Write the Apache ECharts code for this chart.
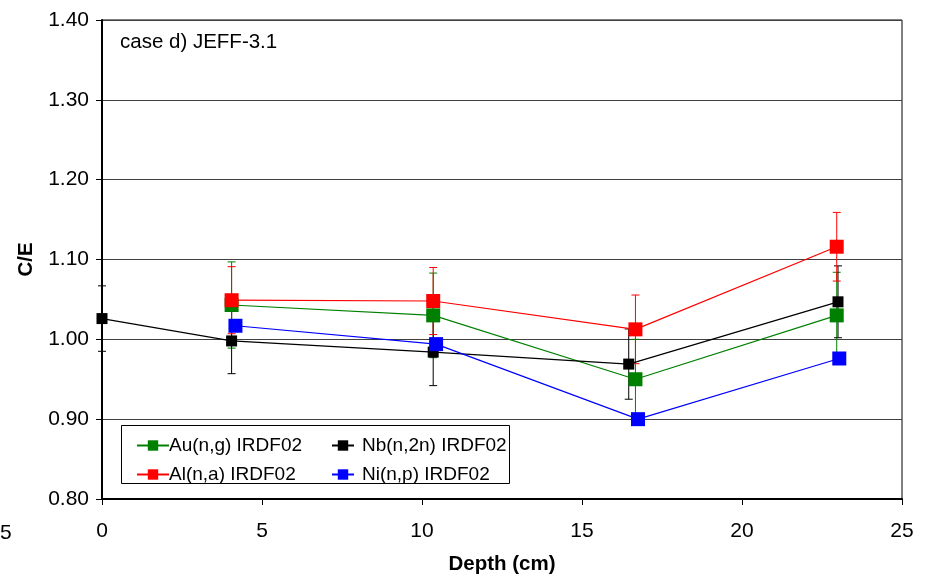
<!DOCTYPE html>
<html>
<head>
<meta charset="utf-8">
<script src="https://cdn.jsdelivr.net/npm/echarts@6/dist/echarts.min.js"></script>
<style>
html,body{margin:0;padding:0;background:#fff;}
#chart{width:929px;height:584px;}
</style>
</head>
<body>
<div id="chart"></div>
<script>
// ---- data ----
const auX = [4.05, 10.35, 16.67, 22.96];
const auY = [1.043, 1.030, 0.950, 1.030];
const auErr = [0.054, 0.053, 0.050, 0.054];

const alX = [4.05, 10.35, 16.67, 22.96];
const alY = [1.049, 1.048, 1.0125, 1.116];
const alErr = [0.042, 0.042, 0.043, 0.043];

const nbX = [0, 4.05, 10.35, 16.46, 23.0];
const nbY = [1.026, 0.998, 0.984, 0.969, 1.047];
const nbErr = [0.041, 0.041, 0.042, 0.044, 0.045];

const niX = [4.17, 10.44, 16.75, 23.04];
const niY = [1.017, 0.994, 0.900, 0.976];

const seriesNames = ['Au(n,g) IRDF02', 'Nb(n,2n) IRDF02', 'Al(n,a) IRDF02', 'Ni(n,p) IRDF02'];
const xTicks = [0, 5, 10, 15, 20, 25];
const yTicks = [0.80, 0.90, 1.00, 1.10, 1.20, 1.30, 1.40];
const caseLabel = 'case d) JEFF-3.1';
const xTitle = 'Depth (cm)';
const yTitle = 'C/E';

const FONT = "'Liberation Sans', Arial, sans-serif";

function pts(xs, ys) { return xs.map((x, i) => [x, ys[i]]); }
function errPts(xs, ys, es) { return xs.map((x, i) => [x, ys[i] - es[i], ys[i] + es[i]]); }

function errRender(color) {
  return function (params, api) {
    const x = api.value(0), lo = api.value(1), hi = api.value(2);
    const pHi = api.coord([x, hi]);
    const pLo = api.coord([x, lo]);
    const w = 4;
    const st = { stroke: color, lineWidth: 1 };
    return {
      type: 'group',
      children: [
        { type: 'line', shape: { x1: pHi[0], y1: pHi[1], x2: pLo[0], y2: pLo[1] }, style: st },
        { type: 'line', shape: { x1: pHi[0] - w, y1: pHi[1], x2: pHi[0] + w, y2: pHi[1] }, style: st },
        { type: 'line', shape: { x1: pLo[0] - w, y1: pLo[1], x2: pLo[0] + w, y2: pLo[1] }, style: st }
      ]
    };
  };
}

function lineSeries(name, data, color, size) {
  return {
    name: name, type: 'line', data: data,
    symbol: 'rect', symbolSize: size,
    lineStyle: { color: color, width: 1.2 },
    itemStyle: { color: color },
    z: 3, animation: false
  };
}
function errSeries(data, color) {
  return {
    type: 'custom', data: data, renderItem: errRender(color),
    encode: { x: 0, y: [1, 2] }, z: 2, silent: true, animation: false
  };
}

const chart = echarts.init(document.getElementById('chart'));
const option = {
  animation: false,
  backgroundColor: '#fff',
  textStyle: { fontFamily: FONT },
  grid: { left: 102, right: 27, top: 20, bottom: 85, show: true, borderColor: '#000', borderWidth: 1, backgroundColor: 'transparent' },
  xAxis: {
    type: 'value', min: xTicks[0], max: xTicks[xTicks.length - 1], interval: 5,
    name: xTitle, nameLocation: 'middle', nameGap: 55,
    nameTextStyle: { fontFamily: FONT, fontWeight: 'bold', fontSize: 20.5, color: '#000' },
    axisLine: { show: true, onZero: false, lineStyle: { color: '#000', width: 2 } },
    axisTick: { show: true, inside: false, length: 6, lineStyle: { color: '#000', width: 1 } },
    axisLabel: { fontFamily: FONT, fontSize: 21, color: '#000', margin: 22 },
    splitLine: { show: false }
  },
  yAxis: {
    type: 'value', min: 0.8, max: 1.4, interval: 0.1,
    name: yTitle, nameLocation: 'middle', nameGap: 62, nameRotate: 90,
    nameTextStyle: { fontFamily: FONT, fontWeight: 'bold', fontSize: 20.5, color: '#000' },
    axisLine: { show: true, onZero: false, lineStyle: { color: '#000', width: 2 } },
    axisTick: { show: true, inside: false, length: 6, lineStyle: { color: '#000', width: 1 } },
    axisLabel: { fontFamily: FONT, fontSize: 21, color: '#000', margin: 13, formatter: v => v.toFixed(2) },
    splitLine: { show: true, lineStyle: { color: '#404040', width: 1 } }
  },
  legend: [
    {
      data: [seriesNames[0], seriesNames[2]], orient: 'vertical', left: 131, top: 431,
      itemWidth: 32, itemHeight: 13, itemGap: 10,
      textStyle: { fontFamily: FONT, fontSize: 19, color: '#000', padding: [0, 0, 0, -5] },
      selectedMode: false
    },
    {
      data: [seriesNames[1], seriesNames[3]], orient: 'vertical', left: 326, top: 431,
      itemWidth: 22, itemHeight: 13, itemGap: 10,
      textStyle: { fontFamily: FONT, fontSize: 19, color: '#000', padding: [0, 0, 0, 3] },
      selectedMode: false
    }
  ],
  graphic: [
    { type: 'rect', left: 121, top: 425, shape: { width: 388, height: 58 }, style: { fill: '#fff', stroke: '#000', lineWidth: 1 }, z: 1 },
    { type: 'text', left: 120, top: 32, style: { text: caseLabel, fontFamily: FONT, fontSize: 20.5, fill: '#000' } },
    { type: 'text', left: 0, top: 523, style: { text: '5', fontFamily: FONT, fontSize: 21, fill: '#000' } }
  ],
  series: [
    errSeries(errPts(auX, auY, auErr), '#008000'),
    lineSeries(seriesNames[0], pts(auX, auY), '#008000', 14),
    errSeries(errPts(nbX, nbY, nbErr), '#000000'),
    lineSeries(seriesNames[1], pts(nbX, nbY), '#000000', 11),
    errSeries(errPts(alX, alY, alErr), '#ff0000'),
    lineSeries(seriesNames[2], pts(alX, alY), '#ff0000', 14),
    lineSeries(seriesNames[3], pts(niX, niY), '#0000ff', 14)
  ]
};
chart.setOption(option);
</script>
</body>
</html>
